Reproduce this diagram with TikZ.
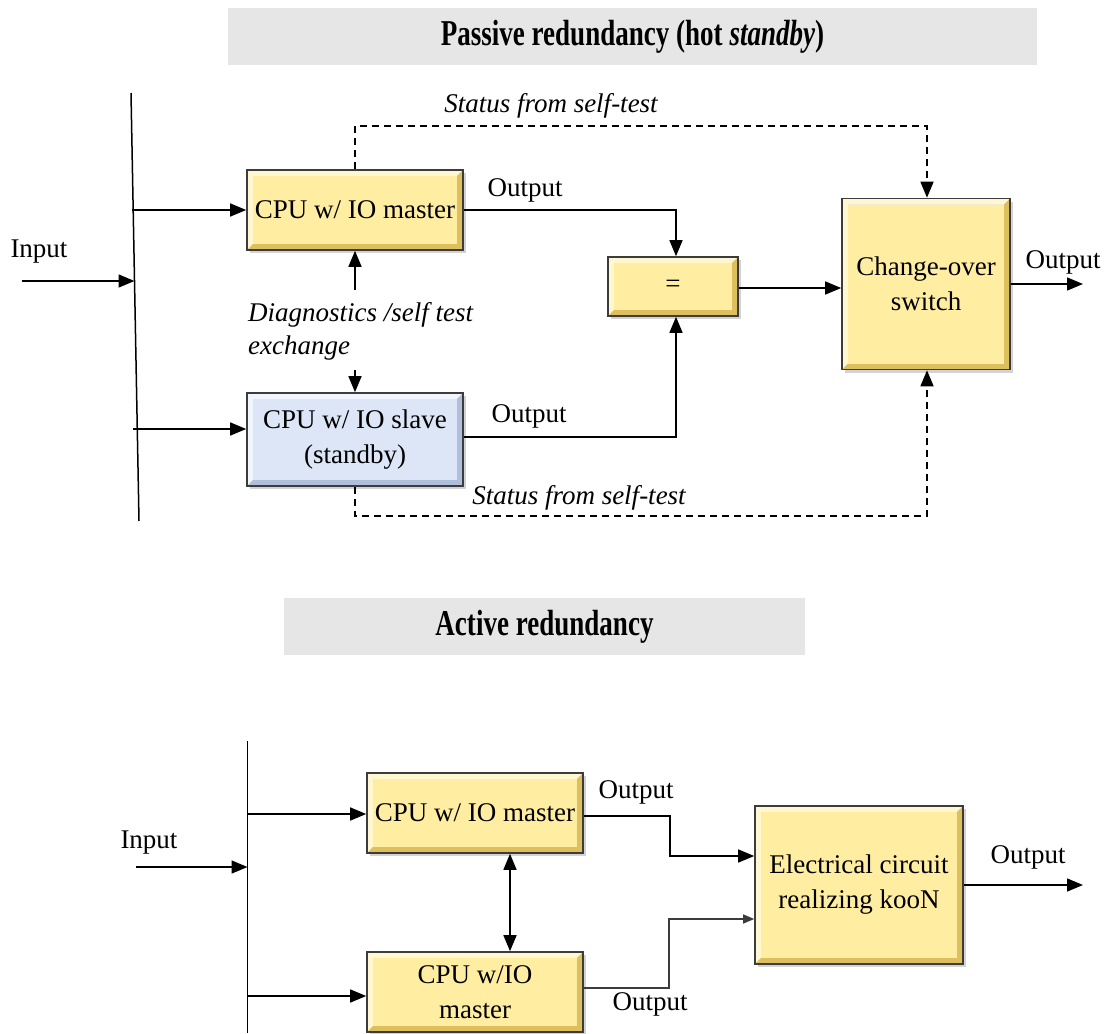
\documentclass[tikz,border=0pt]{standalone}
\usepackage{fontspec}
\usepackage{graphicx}
\setmainfont{Liberation Serif}
\usetikzlibrary{arrows.meta,shadows}

\definecolor{faceY}{HTML}{FFEEA2}
\definecolor{lightY}{HTML}{FFF7D2}
\definecolor{darkY}{HTML}{DDBF5E}
\definecolor{faceB}{HTML}{DCE6F7}
\definecolor{lightB}{HTML}{F1F5FC}
\definecolor{darkB}{HTML}{AFBEDA}
\definecolor{edge}{HTML}{3C3C3C}
\definecolor{titlegray}{HTML}{E6E6E6}

% bevelled block: light top/left rim, dark bottom/right rim, flat face
\newcommand{\bevelrim}[3]{%
  \coordinate (pSW) at (path picture bounding box.south west);
  \coordinate (pNE) at (path picture bounding box.north east);
  \coordinate (pNW) at (path picture bounding box.north west);
  \coordinate (pSE) at (path picture bounding box.south east);
  \coordinate (iSW) at ([shift={(6pt,6pt)}]pSW);
  \coordinate (iNE) at ([shift={(-6pt,-6pt)}]pNE);
  \coordinate (iNW) at ([shift={(6pt,-6pt)}]pNW);
  \coordinate (iSE) at ([shift={(-6pt,6pt)}]pSE);
  \fill[#2] (pSW) -- (pNW) -- (pNE) -- (iNE) -- (iNW) -- (iSW) -- cycle;
  \fill[#3] (pSW) -- (pSE) -- (pNE) -- (iNE) -- (iSE) -- (iSW) -- cycle;
  \fill[#1] (iSW) rectangle (iNE);
}

\tikzset{
  font=\fontsize{27}{35}\selectfont,
  block/.style={rectangle, draw=edge, line width=1.6pt, align=center,
    inner sep=0pt, drop shadow={shadow xshift=3pt, shadow yshift=-3pt, opacity=0.35},
    path picture={\bevelrim{faceY}{lightY}{darkY}}},
  blueblock/.style={block, path picture={\bevelrim{faceB}{lightB}{darkB}}},
  titlebar/.style={rectangle, fill=titlegray, inner sep=0pt},
  lbl/.style={inner sep=0pt},
  ilbl/.style={inner sep=0pt, font=\fontsize{27}{33}\selectfont\itshape},
  wire/.style={line width=1.5pt},
  tip/.tip={Triangle[length=16pt,width=13pt]},
  arr/.style={wire, -tip},
  arrs/.style={line width=1.2pt, draw=edge, -{Triangle[length=11pt,width=9pt]}},
  darr/.style={wire, tip-tip},
  dashwire/.style={wire, dash pattern=on 7pt off 5pt},
}

\begin{document}
\begin{tikzpicture}[x=1pt, y=-1pt]
\useasboundingbox (0,0) rectangle (1107,1033);

% ---------- passive redundancy ----------
\node[titlebar, minimum width=809pt, minimum height=57pt] (t1) at (632.5,36.5)
  {\fontsize{26}{30}\selectfont\scalebox{1.04}[1.4]{\bfseries Passive redundancy (hot \textit{standby})}};

\node[block, minimum width=216pt, minimum height=80pt] (m1) at (355,210) {CPU w/ IO master};
\node[blueblock, minimum width=216pt, minimum height=93pt] (s1) at (355,439.5)
  {CPU w/ IO slave\\(standby)};
\node[block, minimum width=130pt, minimum height=59pt] (eq) at (673,286.5) {=};
\node[block, minimum width=168pt, minimum height=171pt] (sw) at (926,284)
  {Change-over\\switch};

% input bus
\coordinate (busTop) at (131,93);
\coordinate (busBot) at (139,521);
\draw[wire] (busTop) -- (busBot);
\coordinate (inA) at (22,281);
\coordinate (busIn) at (134.5,281);
\draw[arr] (inA) -- (busIn);
\node[lbl] (inLbl) at (39,252) {Input};
\coordinate (tapM) at (132,210);
\coordinate (tapS) at (133,429);
\draw[arr] (tapM) -- (m1.west);
\draw[arr] (tapS) -- (s1.west |- tapS);

% outputs into comparator
\draw[arr] (m1.east) -| ([xshift=3pt]eq.north);
\node[lbl] (oM) at (525,190) {Output};
\draw[arr] ([yshift=2.5pt]s1.east) -| ([xshift=3pt]eq.south);
\node[lbl] (oS) at (529,416) {Output};
\coordinate (eqOut) at ([yshift=-1.5pt]eq.east);
\draw[arr] (eqOut) -- (sw.west |- eqOut);

% switch output
\coordinate (outSw) at (1083,284);
\draw[arr] (sw.east) -- (outSw);
\node[lbl] (oSw) at (1063,262) {Output};

% self-test status lines
\draw[dashwire, -tip]
  (m1.north) -- ++(0,-43) -| ([xshift=1pt]sw.north);
\node[ilbl] (st1) at (551,106) {Status from self-test};
\draw[dashwire, -tip]
  (s1.south) -- ++(0,29) -| ([xshift=1pt]sw.south);
\node[ilbl] (st2) at (579,498) {Status from self-test};

% diagnostics exchange
\coordinate (dgUp) at (355,290);
\coordinate (dgDn) at (355,370);
\draw[arr] (dgUp) -- (m1.south);
\draw[arr] (dgDn) -- (s1.north);
\node[ilbl, anchor=west, align=left] (dg) at (248,331)
  {Diagnostics /self test\\exchange};

% ---------- active redundancy ----------
\node[titlebar, minimum width=521pt, minimum height=57pt] (t2) at (544.5,626.5)
  {\fontsize{26}{30}\selectfont\scalebox{1.04}[1.4]{\bfseries Active redundancy}};

\node[block, minimum width=216pt, minimum height=80pt] (m2) at (475,813) {CPU w/ IO master};
\node[block, minimum width=216pt, minimum height=80pt] (m3) at (475,992)
  {CPU w/IO\\master};
\node[block, minimum width=208pt, minimum height=158pt] (el) at (859,885)
  {Electrical circuit\\realizing kooN};

\coordinate (bus2Top) at (247.5,741);
\coordinate (bus2Bot) at (247.5,1033);
\draw[wire] (bus2Top) -- (bus2Bot);
\coordinate (in2) at (136,867);
\coordinate (bus2In) at (247.5,867);
\draw[arr] (in2) -- (bus2In);
\node[lbl] (in2Lbl) at (149,843) {Input};
\coordinate (tap2a) at (248,814);
\coordinate (tap2b) at (248,996);
\draw[arr] (tap2a) -- (m2.west |- tap2a);
\draw[arr] (tap2b) -- (m3.west |- tap2b);

\draw[darr] ([xshift=35pt]m2.south) -- ([xshift=35pt]m3.north);

\coordinate (j1) at (670,856);
\coordinate (j2) at (669,919);
\draw[arr] ([yshift=-3pt]m2.east) -| (j1) -- (el.west |- j1);
\node[lbl] (o2a) at (636,792) {Output};
\draw[arrs] ([yshift=4pt]m3.east) -| (j2) -- (el.west |- j2);
\node[lbl] (o2b) at (650,1004) {Output};

\coordinate (outEl) at (1083,885);
\draw[arr] (el.east) -- (outEl);
\node[lbl] (o2c) at (1028,857) {Output};
\end{tikzpicture}
\end{document}
